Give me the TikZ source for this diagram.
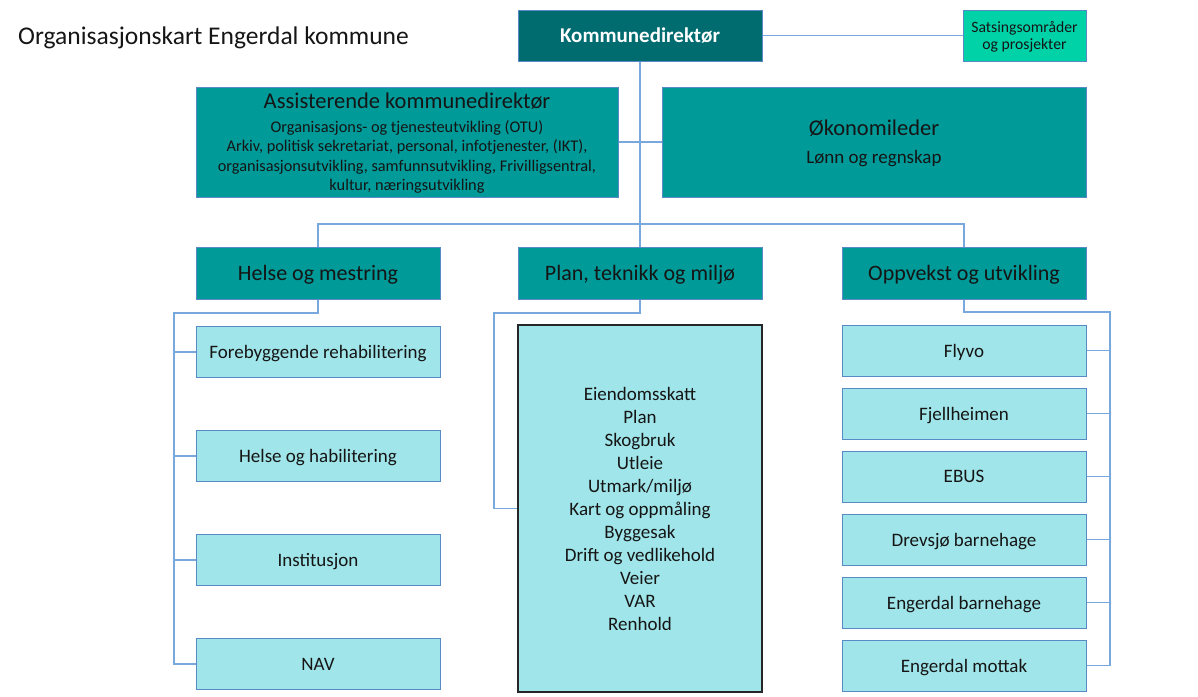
\documentclass[tikz,border=0pt]{standalone}
\usepackage{fontspec}
\setmainfont{Carlito}
\definecolor{darkteal}{HTML}{006C70}
\definecolor{teal2}{HTML}{009A99}
\definecolor{lightcyan}{HTML}{A0E5E9}
\definecolor{mint}{HTML}{00D2A8}
\definecolor{bordblue}{HTML}{5A8AC6}
\definecolor{linkblue}{HTML}{78A8DE}
\definecolor{txt}{HTML}{151515}
\tikzset{
  box/.style={draw=bordblue, line width=1pt, rectangle, inner sep=0pt, align=center, text=txt, text depth=0pt},
  headbox/.style={box, fill=teal2, minimum width=244pt, minimum height=52pt, font=\fontsize{22}{26}\selectfont},
  subbox/.style={box, fill=lightcyan, minimum width=244pt, minimum height=51pt, font=\fontsize{19}{23}\selectfont},
  link/.style={draw=linkblue, line width=1.3pt}
}
\begin{document}
\begin{tikzpicture}[x=1pt,y=-1pt]
\useasboundingbox (0,0) rectangle (1198,696);
\node[anchor=west, text=txt, font=\fontsize{25.5}{30}\selectfont, inner sep=0pt] (title) at (18,38) {Organisasjonskart Engerdal kommune};
\node[box, fill=darkteal, text=white, minimum width=244pt, minimum height=51pt, font=\fontsize{21}{25}\selectfont\bfseries] (kd) at (640,35.5) {Kommunedirektør};
\node[box, fill=mint, minimum width=123pt, minimum height=51pt, font=\fontsize{15.7}{17}\selectfont] (sats) at (1024.5,35.5) {Satsingsområder\\og prosjekter};
\node[box, fill=teal2, minimum width=422pt, minimum height=110pt, font=\fontsize{16.3}{19.5}\selectfont] (ass) at (407,142) {{\fontsize{22.5}{24}\selectfont Assisterende kommunedirektør}\\[4pt]
Organisasjons- og tjenesteutvikling (OTU)\\
Arkiv, politisk sekretariat, personal, infotjenester, (IKT),\\
organisasjonsutvikling, samfunnsutvikling, Frivilligsentral,\\
kultur, næringsutvikling};
\node[box, fill=teal2, minimum width=424pt, minimum height=110pt, font=\fontsize{19}{26}\selectfont] (oko) at (874,142) {{\fontsize{22.5}{26}\selectfont Økonomileder}\\[2pt]
Lønn og regnskap};
\node[headbox] (helse) at (318,273) {Helse og mestring};
\node[headbox] (plan) at (640,273) {Plan, teknikk og miljø};
\node[headbox] (opp) at (964,273) {Oppvekst og utvikling};
\node[subbox] (f1) at (318,352) {Forebyggende rehabilitering};
\node[subbox] (f2) at (318,456) {Helse og habilitering};
\node[subbox] (f3) at (318,560) {Institusjon};
\node[subbox] (f4) at (318,664) {NAV};
\node[box, draw=black!85, line width=1.5pt, fill=lightcyan, minimum width=244pt, minimum height=367pt, font=\fontsize{19}{23}\selectfont] (big) at (640,508.5) {Eiendomsskatt\\Plan\\Skogbruk\\Utleie\\Utmark/miljø\\Kart og oppmåling\\Byggesak\\Drift og vedlikehold\\Veier\\VAR\\Renhold};
\node[subbox] (r1) at (964,350.5) {Flyvo};
\node[subbox] (r2) at (964,413.5) {Fjellheimen};
\node[subbox] (r3) at (964,476.5) {EBUS};
\node[subbox] (r4) at (964,539.5) {Drevsjø barnehage};
\node[subbox] (r5) at (964,602.5) {Engerdal barnehage};
\node[subbox] (r6) at (964,665.5) {Engerdal mottak};
\coordinate (hb) at (640,224);
\coordinate (lh) at (174,313);
\coordinate (lp) at (494,313);
\coordinate (ro) at (1110,312);
\draw[link] (kd.east) -- (sats.west);
\draw[link] (kd.south) -- (plan.north);
\draw[link] (ass.east) -- (oko.west);
\draw[link] (helse.north) |- (hb) -| (opp.north);
\draw[link] (helse.south) |- (lh) |- (f4.west);
\draw[link] (lh |- f1.west) -- (f1.west);
\draw[link] (lh |- f2.west) -- (f2.west);
\draw[link] (lh |- f3.west) -- (f3.west);
\draw[link] (plan.south) |- (lp) |- (big.west);
\draw[link] (opp.south) |- (ro) |- (r6.east);
\draw[link] (ro |- r1.east) -- (r1.east);
\draw[link] (ro |- r2.east) -- (r2.east);
\draw[link] (ro |- r3.east) -- (r3.east);
\draw[link] (ro |- r4.east) -- (r4.east);
\draw[link] (ro |- r5.east) -- (r5.east);
\end{tikzpicture}
\end{document}
